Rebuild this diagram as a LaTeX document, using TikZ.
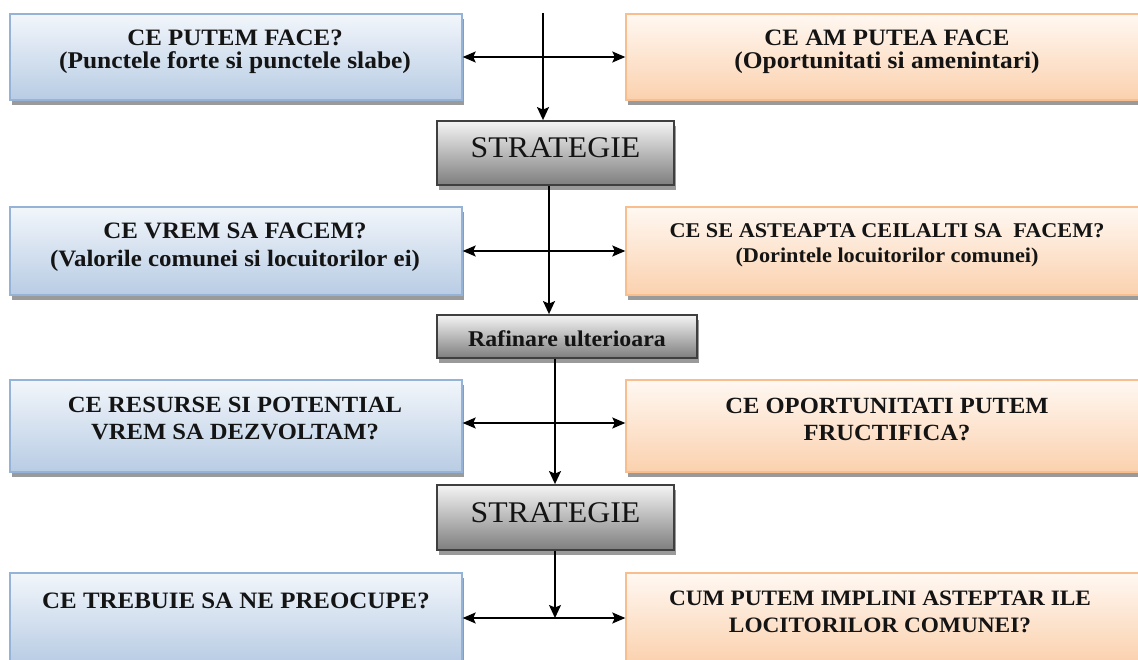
\documentclass[tikz,border=0pt]{standalone}
\usepackage{fontspec}
\setmainfont{Liberation Serif}[FakeStretch=1.06]
\usetikzlibrary{arrows.meta,shadows,calc}
\definecolor{bluetop}{HTML}{F2F6FB}
\definecolor{bluebot}{HTML}{B8CCE4}
\definecolor{blueline}{HTML}{95B3D7}
\definecolor{ortop}{HTML}{FFF8F2}
\definecolor{orbot}{HTML}{FBD1AE}
\definecolor{orline}{HTML}{F9BE8E}
\definecolor{graytop}{HTML}{F4F4F4}
\definecolor{graybot}{HTML}{7E7E7E}
\definecolor{grayline}{HTML}{3F3F3F}
\definecolor{shadowc}{HTML}{9A9A9A}
\definecolor{txtc}{HTML}{141414}
\begin{document}
\begin{tikzpicture}[x=1pt,y=-1pt,
  boxbase/.style={rectangle, inner sep=0pt,
    general shadow={fill=shadowc, shadow xshift=2pt, shadow yshift=-5pt}},
  bluebox/.style={boxbase, draw=blueline, line width=1.4pt, top color=bluetop, bottom color=bluebot, minimum width=452pt},
  orbox/.style={boxbase, draw=orline, line width=1.4pt, top color=ortop, bottom color=orbot, minimum width=524pt},
  graybox/.style={boxbase, draw=grayline, line width=1.8pt, top color=graytop, bottom color=graybot},
  tx/.style={anchor=base, inner sep=0pt, text=txtc},
  fbonea/.style={font=\bfseries\fontsize{23.5pt}{25pt}\selectfont},
  fboneb/.style={font=\bfseries\fontsize{24pt}{26pt}\selectfont},
  fstrat/.style={font=\fontsize{30pt}{32pt}\selectfont},
  fbtwo/.style={font=\bfseries\fontsize{23.5pt}{26pt}\selectfont},
  fbtwor/.style={font=\bfseries\fontsize{21pt}{24pt}\selectfont},
  fraf/.style={font=\bfseries\fontsize{22.5pt}{24pt}\selectfont},
  fbthree/.style={font=\bfseries\fontsize{23.2pt}{26pt}\selectfont},
  fbfour/.style={font=\bfseries\fontsize{22pt}{26pt}\selectfont},
  conn/.style={line width=1.5pt, black},
  tipd/.style={-{Stealth[length=13pt,width=12pt,inset=2.5pt]}},
  tipdd/.style={{Stealth[length=13pt,width=11pt,inset=2.5pt]}-{Stealth[length=13pt,width=11pt,inset=2.5pt]}}
]
\useasboundingbox (0,0) rectangle (1138,660);
\clip (0,0) rectangle (1138,660);
\fill[white] (0,0) rectangle (1138,660);

% boxes
\node[bluebox, minimum height=86pt] (b1l) at (236,57) {};
\node[orbox, minimum height=86pt] (b1r) at (888,57) {};
\node[graybox, minimum width=237pt, minimum height=64pt] (s1) at (555.5,153) {};
\node[bluebox, minimum height=88pt] (b2l) at (236,251) {};
\node[orbox, minimum height=88pt] (b2r) at (888,251) {};
\node[graybox, minimum width=260pt, minimum height=43pt] (raf) at (567,336.5) {};
\node[bluebox, minimum height=92pt] (b3l) at (236,426) {};
\node[orbox, minimum height=92pt] (b3r) at (888,426) {};
\node[graybox, minimum width=237pt, minimum height=65pt] (s2) at (555.5,517.5) {};
\node[bluebox, minimum height=90pt] (b4l) at (236,618) {};
\node[orbox, minimum height=90pt] (b4r) at (888,618) {};

% texts
\node[tx, fbonea] (t1la) at (235,46) {CE PUTEM FACE?};
\node[tx, fboneb] (t1lb) at (235,69) {(Punctele forte si punctele slabe)};
\node[tx, fbonea] (t1ra) at (887,46) {CE AM PUTEA FACE};
\node[tx, fboneb] (t1rb) at (887,69) {(Oportunitati si amenintari)};
\node[tx, fstrat] (ts1) at (555.5,158) {STRATEGIE};
\node[tx, fbtwo] (t2la) at (235,239) {CE VREM SA FACEM?};
\node[tx, fbtwo] (t2lb) at (235,267) {(Valorile comunei si locuitorilor ei)};
\node[tx, fbtwor] (t2ra) at (887,238) {CE SE ASTEAPTA CEILALTI SA\ \ FACEM?};
\node[tx, fbtwor] (t2rb) at (887,263) {(Dorintele locuitorilor comunei)};
\node[tx, fraf] (traf) at (567,347) {Rafinare ulterioara};
\node[tx, fbthree] (t3la) at (235,412) {CE RESURSE SI POTENTIAL};
\node[tx, fbthree] (t3lb) at (235,439) {VREM SA DEZVOLTAM?};
\node[tx, fbthree] (t3ra) at (887,413) {CE OPORTUNITATI PUTEM};
\node[tx, fbthree] (t3rb) at (887,440) {FRUCTIFICA?};
\node[tx, fstrat] (ts2) at (555.5,522) {STRATEGIE};
\node[tx, fbtwo] (t4l) at (236,608) {CE TREBUIE SA NE PREOCUPE?};
\node[tx, fbfour] (t4ra) at (880,605) {CUM PUTEM IMPLINI ASTEPTAR ILE};
\node[tx, fbfour] (t4rb) at (880,632) {LOCITORILOR COMUNEI?};

% connectors
\coordinate (top) at (543,13);
\draw[conn, tipd] (top) -- (top |- s1.north);
\draw[conn, tipdd] (b1l.east) -- (b1r.west);
\draw[conn, tipd] ($(s1.south)+(-6.5,0)$) coordinate (c1) -- (c1 |- raf.north);
\draw[conn, tipdd] (b2l.east) -- (b2r.west);
\draw[conn, tipd] ($(raf.south)+(-12,0)$) coordinate (c2) -- (c2 |- s2.north);
\draw[conn, tipdd] ($(b3l.east)+(0,-3)$) coordinate (c3) -- (c3 -| b3r.west);
\draw[conn, tipd] ($(s2.south)+(-0.5,0)$) coordinate (c4) -- (c4 |- b4l.east);
\draw[conn, tipdd] (b4l.east) -- (b4r.west);
\end{tikzpicture}
\end{document}
